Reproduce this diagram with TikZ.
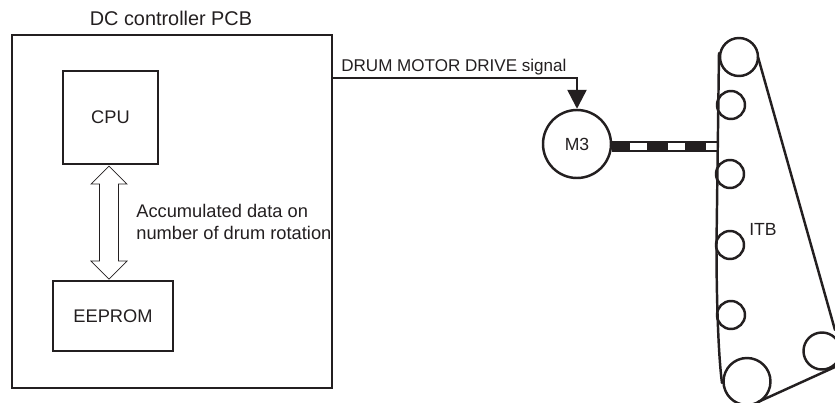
\documentclass[tikz,border=0pt]{standalone}
\usepackage{fontspec}
\setmainfont{Liberation Sans}
\usetikzlibrary{arrows.meta,shapes.arrows}
\definecolor{inkdark}{HTML}{231F20}
\tikzset{
  boardbox/.style={draw=inkdark,line width=1.6pt,inner sep=0pt},
  roller/.style={draw=inkdark,line width=1.4pt},
  beltline/.style={draw=inkdark,line width=1.4pt,line cap=round},
}
\begin{document}
\begin{tikzpicture}[font=\fontsize{10.4}{12.5}\selectfont,text=inkdark]
\clip (0,0) rectangle (16.7,8.04);
\useasboundingbox (0,0) rectangle (16.7,8.04);
% board
\node[boardbox,line width=1.3pt,minimum width=6.4cm,minimum height=7.06cm] (pcb) at (3.44,3.81) {};
\node[font=\fontsize{11.3}{13}\selectfont] (pcblabel) at (3.42,7.68) {DC controller PCB};
\node[boardbox,minimum width=1.9cm,minimum height=1.86cm] (cpu) at (2.21,5.69) {CPU};
\node[boardbox,minimum width=2.4cm,minimum height=1.4cm] (eeprom) at (2.26,1.72) {EEPROM};
\node[double arrow,draw=inkdark,line width=0.4pt,rotate=90,inner xsep=0pt,inner ysep=0.05cm,minimum height=2.26cm,minimum width=0.72cm,double arrow head extend=0.05cm,double arrow tip angle=90] (dataarrow) at (2.18,3.59) {};
\node[anchor=west,align=left,inner sep=0pt] (datalabel) at (2.72,3.6) {Accumulated data on\\number of drum rotation};
% motor and drive
\coordinate (wirestart) at (6.64,6.48);
\coordinate (shaftend) at (14.34,5.11);
\coordinate (dashstart) at (12.6,5.11);
\node[circle,draw=inkdark,line width=1.4pt,fill=white,minimum size=1.36cm,inner sep=0pt,font=\fontsize{10}{12}\selectfont] (motor) at (11.54,5.16) {M3};
\node[anchor=west,inner sep=0pt,font=\fontsize{9.7}{12}\selectfont] (signallabel) at (6.82,6.70) {DRUM MOTOR DRIVE signal};
\draw[inkdark,line width=1.4pt,-{Triangle[length=3.8mm,width=3.8mm]}] (wirestart) -| (motor.north);
\draw[inkdark,line width=0.22cm] (motor.east |- shaftend) -- (shaftend);
\draw[white,line width=0.13cm,dash pattern=on 0.34cm off 0.42cm] (dashstart) -- (shaftend);
% belt
\draw[beltline] (14.38,6.98) -- (14.33,3.14) .. controls (14.33,2.0) and (14.37,0.9) .. (14.44,0.38);
\draw[beltline] (15.16,6.9) -- (16.7,1.44);
\draw[beltline] (15.16,0) -- (16.7,0.7);
\foreach \x/\y/\r in {14.78/6.90/0.38,14.62/5.94/0.28,14.60/4.56/0.28,14.60/3.14/0.28,14.62/1.74/0.28,14.94/0.41/0.47,16.44/1.02/0.37}
  \draw[roller] (\x,\y) circle (\r);
\node[anchor=west,inner sep=0pt,font=\fontsize{10}{12}\selectfont] (itblabel) at (14.98,3.46) {ITB};
\end{tikzpicture}
\end{document}
